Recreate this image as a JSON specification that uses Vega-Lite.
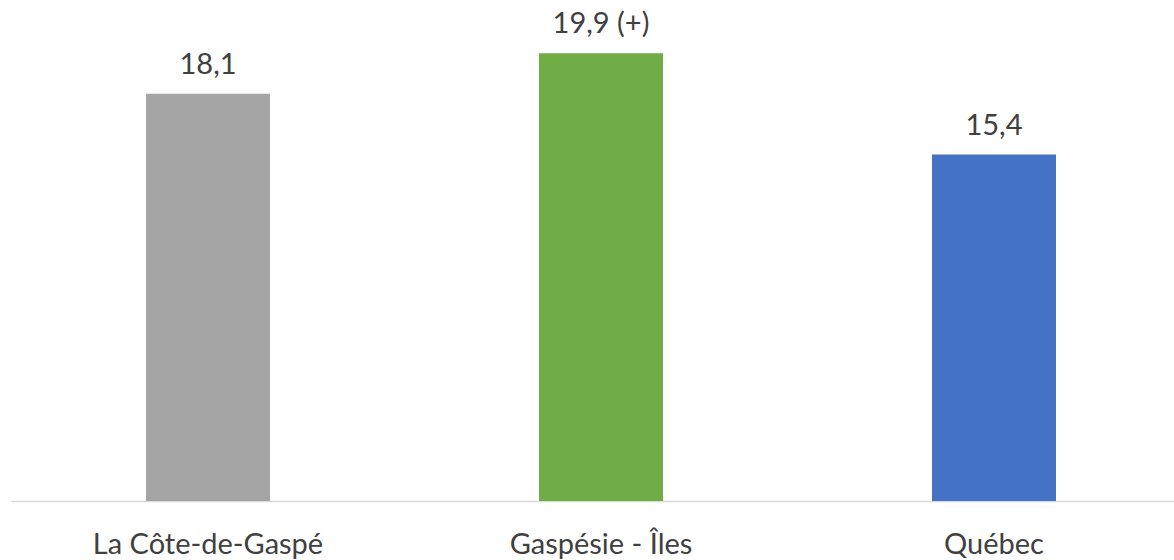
{
  "$schema": "https://vega.github.io/schema/vega-lite/v6.json",
  "autosize": {"type": "none"},
  "padding": {"left": 11, "top": 6, "right": 0, "bottom": 59},
  "width": 1163,
  "height": 495,
  "background": "white",
  "config": {"view": {"stroke": null}},
  "data": {
    "values": [
      {"region": "La Côte-de-Gaspé", "value": 18.1, "label": "18,1", "color": "#a5a5a5"},
      {"region": "Gaspésie - Îles", "value": 19.9, "label": "19,9 (+)", "color": "#70ad47"},
      {"region": "Québec", "value": 15.4, "label": "15,4", "color": "#4472c4"}
    ]
  },
  "encoding": {
    "x": {
      "field": "region",
      "type": "nominal",
      "sort": null,
      "scale": {"paddingInner": 0.6845, "paddingOuter": 0.3219, "align": 0.5336},
      "axis": {
        "title": null,
        "labelAngle": 0,
        "ticks": false,
        "tickSize": 0,
        "labelPadding": 52,
        "labelLimit": 0,
        "labelBaseline": "alphabetic",
        "labelFont": "Lato",
        "labelFontSize": 29,
        "labelColor": "#404040",
        "domainColor": "#d9d9d9",
        "domainWidth": 1.5,
        "grid": false
      }
    },
    "y": {
      "field": "value",
      "type": "quantitative",
      "scale": {"domain": [0, 22], "nice": false},
      "axis": null
    }
  },
  "layer": [
    {
      "mark": {"type": "bar"},
      "encoding": {
        "color": {"field": "color", "type": "nominal", "scale": null, "legend": null}
      }
    },
    {
      "mark": {"type": "text", "baseline": "alphabetic", "dy": -20, "font": "Lato", "fontSize": 29, "color": "#404040"},
      "encoding": {"text": {"field": "label"}}
    }
  ]
}
